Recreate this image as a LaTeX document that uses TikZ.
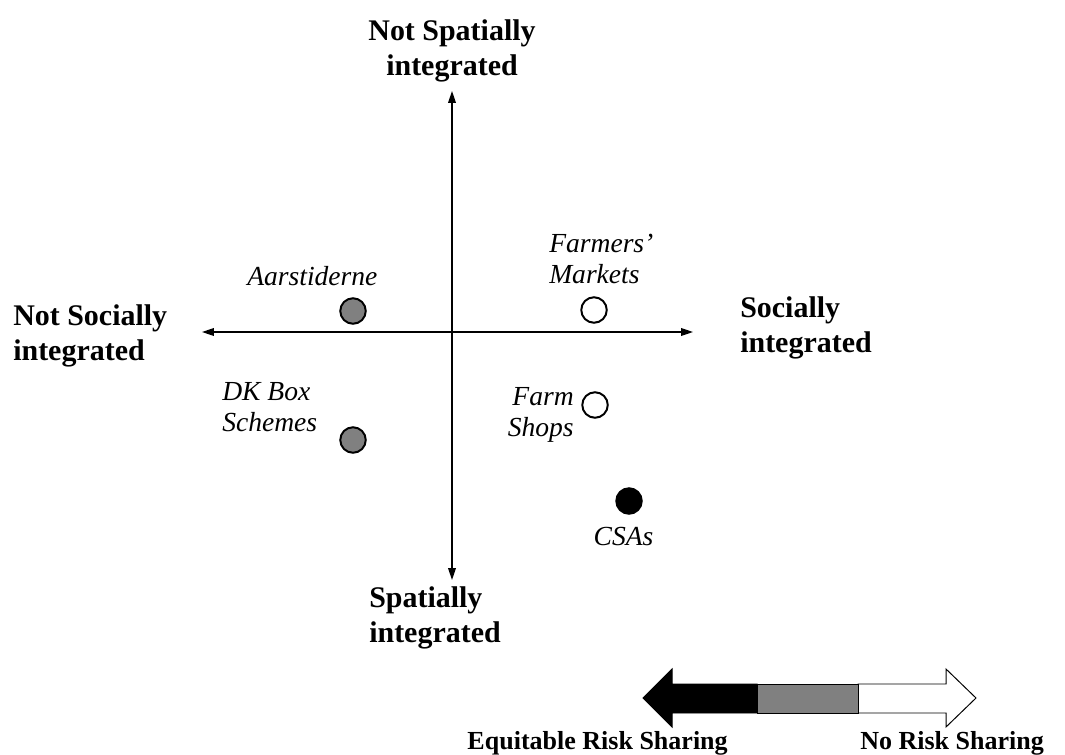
\documentclass[tikz,border=0pt]{standalone}
\usepackage{fontspec}
\setmainfont{Liberation Serif}
\usetikzlibrary{arrows.meta,positioning}

\begin{document}
\begin{tikzpicture}[x=0.025cm, y=-0.025cm,
    every node/.style={inner sep=0pt},
    axislabel/.style={font=\fontsize{21.3}{24.9}\selectfont\bfseries},
    risklabel/.style={font=\fontsize{18.5}{21}\selectfont\bfseries},
    schemelabel/.style={font=\fontsize{19.6}{22.3}\selectfont\itshape},
    scheme/.style={circle, draw, line width=1.4pt, minimum size=25.5*0.7113pt},
    axis/.style={line width=0.8pt, {Triangle[length=8.5pt,width=5.5pt]}-{Triangle[length=8.5pt,width=5.5pt]}},
    riskpart/.style={draw, line width=0.7pt}]
    \useasboundingbox (0,0) rectangle (1065,755);

    % axes
    \coordinate (top) at (452,91);
    \coordinate (bottom) at (452,580);
    \coordinate (left) at (202,332);
    \coordinate (right) at (693,332);
    \draw[axis] (bottom) -- (top);
    \draw[axis] (left) -- (right);

    \node[axislabel, align=center] (notspatial) at (452,51) {Not Spatially\\integrated};
    \node[axislabel, align=left, anchor=west] (spatial) at (369,618) {Spatially\\integrated};
    \node[axislabel, align=left, anchor=west] (notsocial) at (13,336) {Not Socially\\integrated};
    \node[axislabel, align=left, anchor=west] (social) at (740,328) {Socially\\integrated};

    % schemes
    \node[scheme, fill=black!50] (aarstiderne) at (353,311) {};
    \node[scheme, fill=black!50] (dkbox) at (353,440) {};
    \node[scheme, fill=white] (markets) at (594,310) {};
    \node[scheme, fill=white] (farmshops) at (595,405) {};
    \node[scheme, fill=black] (csas) at (629,501) {};

    \node[schemelabel, anchor=base west] (aarstidernetext) at (247,285) {Aarstiderne};
    \node[schemelabel, align=left, anchor=west] (dkboxtext) at (222,407) {DK Box\\Schemes};
    \node[schemelabel, align=left, anchor=west] (marketstext) at (549,259) {Farmers'\\Markets};
    \node[schemelabel, align=right, anchor=east] (farmshopstext) at (574,415) {Farm\\Shops};
    \node[schemelabel, anchor=base] (csastext) at (623.5,545) {CSAs};

    % risk sharing arrow
    \coordinate (blacktip) at (643,698);
    \coordinate (whitetip) at (976,698);
    \draw[riskpart, fill=white] (858,684) -- (946,684) -- (946,669) -- (whitetip)
        -- (946,727) -- (946,713) -- (858,713) -- cycle;
    \draw[riskpart, fill=black!50] (757,684) rectangle (858,713);
    \draw[riskpart, fill=black] (757,684) -- (672,684) -- (672,669) -- (blacktip)
        -- (672,727) -- (672,713) -- (757,713) -- cycle;

    \node[risklabel, anchor=base east] (equitable) at (728,749) {Equitable Risk Sharing};
    \node[risklabel, anchor=base west] (norisk) at (860,749) {No Risk Sharing};
\end{tikzpicture}
\end{document}
